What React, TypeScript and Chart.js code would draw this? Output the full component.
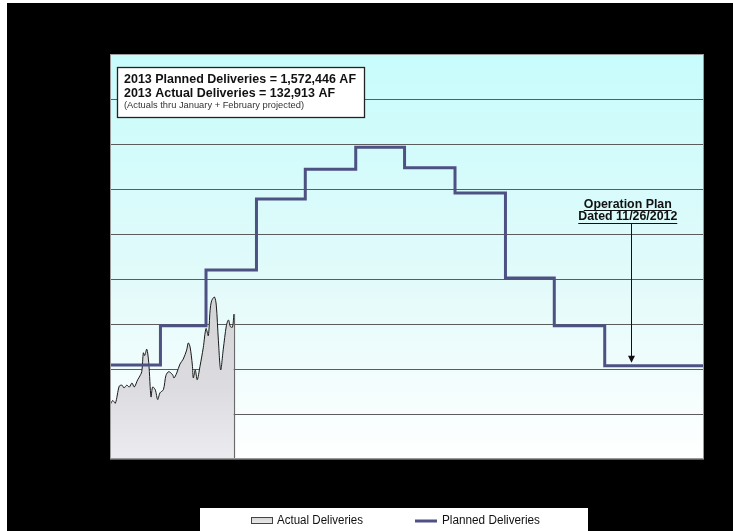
import React, { useEffect, useRef } from "react";
import { Chart, registerables } from "chart.js";
Chart.register(...registerables);

// Planned deliveries (cfs), stepped by month start day-of-year
const monthStartDays = [0, 31, 59, 90, 120, 151, 181, 212, 243, 273, 304, 334, 365];
const plannedCfs = [1045, 1480, 2100, 2890, 3220, 3465, 3235, 2955, 2010, 1480, 1035, 1035, 1035];

// Actual daily deliveries (cfs) by day-of-year
const actualDays = [0, 1.7, 3.3, 5.7, 7.4, 8.6, 10.3, 11.9, 13.5, 14.9, 17.0, 18.0, 19.5, 20.5, 21.3, 22.6, 23.8, 25.2, 26.2, 27.8, 29.3, 30.7, 32.8, 34.4, 36.1, 38.5, 39.3, 41.0, 43.0, 45.0, 47.1, 48.1, 49.2, 50.6, 51.2, 52.4, 53.6, 55.3, 57.3, 59.0, 60.4, 61.5, 62.5, 64.2, 65.3, 66.6, 68.0, 69.6, 71.5, 72.8, 74.0, 75.3, 76.1];
const actualCfs = [600, 650, 620, 810, 820, 790, 820, 800, 845, 800, 880, 910, 970, 1180, 1150, 1220, 1070, 690, 800, 770, 660, 735, 770, 930, 970, 935, 900, 955, 1055, 1110, 1210, 1290, 1245, 1045, 900, 990, 880, 1030, 1235, 1450, 1370, 1650, 1760, 1800, 1710, 1320, 990, 1220, 1480, 1545, 1470, 1465, 1610];

const yMax = 4500;
const yStep = 500;
const xMax = 365;

const summaryLines = [
  "2013 Planned Deliveries = 1,572,446 AF",
  "2013 Actual Deliveries = 132,913 AF",
  "(Actuals thru January + February projected)",
];
const noteLines = ["Operation Plan", "Dated 11/26/2012"];
const noteDay = 320;
const noteLine1Cfs = 2830;
const noteLine2Cfs = 2690;
const noteArrowStartCfs = 2620;
const legendLabels = ["Actual Deliveries", "Planned Deliveries"];

const PLAN_COLOR = "#4d5283";

function fitText(ctx: CanvasRenderingContext2D, text: string, x: number, y: number, width: number) {
  const w = ctx.measureText(text).width;
  ctx.save();
  ctx.translate(x, y);
  ctx.scale(width / w, 1);
  ctx.fillText(text, 0, 0);
  ctx.restore();
}

const decorPlugin = {
  id: "decor",
  beforeDraw(chart: any) {
    const { ctx, chartArea: ca, width, height } = chart;
    ctx.save();
    ctx.fillStyle = "#000000";
    ctx.fillRect(7, 3, width - 7, height - 3);
    const g = ctx.createLinearGradient(0, ca.top, 0, ca.bottom);
    g.addColorStop(0, "#c8fcfc");
    g.addColorStop(0.55, "#e2fafa");
    g.addColorStop(1, "#ffffff");
    ctx.fillStyle = g;
    ctx.fillRect(ca.left, ca.top, ca.right - ca.left, ca.bottom - ca.top);
    ctx.restore();
  },
  afterDatasetsDraw(chart: any) {
    const { ctx, chartArea: ca, scales } = chart;
    const xs = scales.x, ys = scales.y;
    ctx.save();
    // right edge of the actual area
    const lastI = actualDays.length - 1;
    const ex = Math.round(xs.getPixelForValue(actualDays[lastI])) + 0.5;
    ctx.strokeStyle = "#6a6a6a";
    ctx.lineWidth = 1.2;
    ctx.beginPath();
    ctx.moveTo(ex, ys.getPixelForValue(actualCfs[lastI]));
    ctx.lineTo(ex, ys.getPixelForValue(0));
    ctx.stroke();

    // plot border
    ctx.strokeStyle = "#9a9a9a";
    ctx.lineWidth = 1;
    ctx.strokeRect(ca.left + 0.5, ca.top + 0.5, ca.right - ca.left - 1, ca.bottom - ca.top - 1);

    // summary box
    const bx = ca.left + 7, by = ca.top + 13, bw = 247, bh = 50;
    ctx.fillStyle = "#ffffff";
    ctx.fillRect(bx, by, bw, bh);
    ctx.strokeStyle = "#222222";
    ctx.lineWidth = 1.3;
    ctx.strokeRect(bx + 0.5, by + 0.5, bw, bh);
    ctx.fillStyle = "#111111";
    ctx.textBaseline = "middle";
    ctx.textAlign = "left";
    ctx.font = 'bold 13px "Liberation Sans Narrow", "Liberation Sans", Arial, sans-serif';
    fitText(ctx, summaryLines[0], bx + 7, by + 12, 232);
    fitText(ctx, summaryLines[1], bx + 7, by + 26, 211);
    ctx.font = '9px "Liberation Sans", Arial, sans-serif';
    ctx.fillStyle = "#333333";
    fitText(ctx, summaryLines[2], bx + 7, by + 39, 180);

    // operation plan note
    const nx = xs.getPixelForValue(noteDay);
    ctx.fillStyle = "#111111";
    ctx.strokeStyle = "#111111";
    ctx.font = 'bold 12px "Liberation Sans", Arial, sans-serif';
    const y1 = ys.getPixelForValue(noteLine1Cfs);
    const y2 = ys.getPixelForValue(noteLine2Cfs);
    const w1 = 88, w2 = 99;
    fitText(ctx, noteLines[0], nx - w1 / 2 - 3, y1, w1);
    fitText(ctx, noteLines[1], nx - w2 / 2 - 3, y2, w2);
    ctx.lineWidth = 1;
    ctx.beginPath();
    ctx.moveTo(nx - w1 / 2 - 3, Math.round(y1 + 6) + 0.5);
    ctx.lineTo(nx + w1 / 2 - 3, Math.round(y1 + 6) + 0.5);
    ctx.moveTo(nx - w2 / 2 - 3, Math.round(y2 + 6) + 0.5);
    ctx.lineTo(nx + w2 / 2 - 3, Math.round(y2 + 6) + 0.5);
    ctx.stroke();
    // arrow
    const ay0 = ys.getPixelForValue(noteArrowStartCfs);
    const ay1 = ys.getPixelForValue(plannedCfs[10]) - 3;
    const ax = Math.round(nx) + 0.5;
    ctx.beginPath();
    ctx.moveTo(ax, ay0);
    ctx.lineTo(ax, ay1 - 5);
    ctx.stroke();
    ctx.beginPath();
    ctx.moveTo(ax, ay1);
    ctx.lineTo(ax - 3.5, ay1 - 7);
    ctx.lineTo(ax + 3.5, ay1 - 7);
    ctx.closePath();
    ctx.fill();

    // legend
    ctx.fillStyle = "#ffffff";
    ctx.fillRect(200, 508, 388, 30);
    // actual icon
    const ig = ctx.createLinearGradient(0, 518, 0, 525);
    ig.addColorStop(0, "#d6d6d6");
    ig.addColorStop(1, "#f0f0f0");
    ctx.fillStyle = ig;
    ctx.fillRect(251, 518, 21, 6);
    ctx.strokeStyle = "#444444";
    ctx.lineWidth = 1;
    ctx.strokeRect(251.5, 517.5, 21, 6);
    ctx.fillStyle = "#111111";
    ctx.font = '12px "Liberation Sans", Arial, sans-serif';
    ctx.textBaseline = "middle";
    fitText(ctx, legendLabels[0], 277, 521, 86);
    ctx.strokeStyle = PLAN_COLOR;
    ctx.lineWidth = 3;
    ctx.beginPath();
    ctx.moveTo(415, 521);
    ctx.lineTo(437, 521);
    ctx.stroke();
    fitText(ctx, legendLabels[1], 442, 521, 98);
    ctx.restore();
  },
};

export default function App() {
  const ref = useRef<HTMLCanvasElement | null>(null);
  useEffect(() => {
    if (!ref.current) return;
    const chart = new Chart(ref.current, {
      type: "line",
      data: {
        datasets: [
          {
            label: legendLabels[1],
            data: monthStartDays.map((d, i) => ({ x: d, y: plannedCfs[i] })),
            borderColor: PLAN_COLOR,
            borderWidth: 3,
            stepped: true,
            pointRadius: 0,
            fill: false,
          },
          {
            label: legendLabels[0],
            data: actualDays.map((d, i) => ({ x: d, y: actualCfs[i] })),
            borderColor: "#1a1a1a",
            borderWidth: 1,
            tension: 0.3,
            pointRadius: 0,
            fill: "origin",
            backgroundColor: (c: any) => {
              const ch = c.chart;
              const ca = ch.chartArea;
              if (!ca) return "#dadada";
              const g = ch.ctx.createLinearGradient(0, ca.top + ca.height * 0.55, 0, ca.bottom);
              g.addColorStop(0, "#d2d2d4");
              g.addColorStop(0.6, "#dcdce0");
              g.addColorStop(1, "#ececf0");
              return g;
            },
          },
        ],
      },
      options: {
        animation: false,
        responsive: false,
        maintainAspectRatio: false,
        layout: { padding: { left: 110, right: 29, top: 54, bottom: 72 } },
        plugins: { legend: { display: false }, tooltip: { enabled: false } },
        scales: {
          x: { type: "linear", min: 0, max: xMax, display: false },
          y: {
            min: 0,
            max: yMax,
            ticks: { stepSize: yStep, display: false },
            grid: { color: "#5c5c5c", lineWidth: 1, drawTicks: false },
            border: { display: false },
          },
        },
      },
      plugins: [decorPlugin],
    });
    return () => chart.destroy();
  }, []);
  return (
    <div style={{ position: "absolute", left: 0, top: 0, width: 733, height: 531, background: "#ffffff" }}>
      <canvas ref={ref} width={733} height={531} style={{ display: "block", width: 733, height: 531 }} />
    </div>
  );
}
